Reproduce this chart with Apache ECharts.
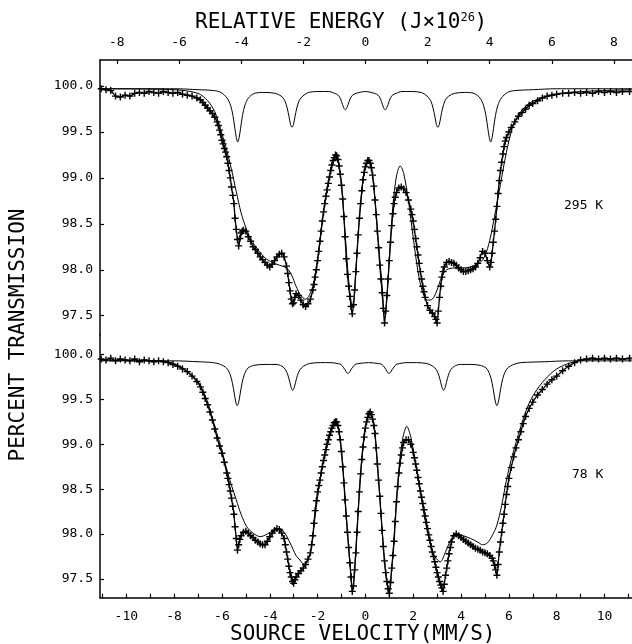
<!DOCTYPE html>
<html>
<head>
<meta charset="utf-8">
<script src="https://cdn.jsdelivr.net/npm/echarts@6.0.0/dist/echarts.min.js"></script>
<style>
  html, body { margin: 0; padding: 0; background: #fff; }
  #chart { width: 632px; height: 644px; }
</style>
</head>
<body>
<div id="chart"></div>
<script>
// axis ticks / labels
const velTicks = [-11, -10, -9, -8, -7, -6, -5, -4, -3, -2, -1, 0, 1, 2, 3, 4, 5, 6, 7, 8, 9, 10, 11];
const velLabels = [-10, -8, -6, -4, -2, 0, 2, 4, 6, 8, 10];
const energyLabels = [-8, -6, -4, -2, 0, 2, 4, 6, 8];
const transTicks = [97.5, 98.0, 98.5, 99.0, 99.5, 100.0];
const tempLabels = ['295 K', '78 K'];

// 295 K : measured points [velocity mm/s, % transmission]
const data295 = [
  [-11.05, 99.97], [-10.85, 99.96], [-10.65, 99.95], [-10.45, 99.89], [-10.25, 99.88], [-10.05, 99.90],
  [-9.85, 99.89], [-9.65, 99.92], [-9.45, 99.93], [-9.25, 99.92], [-9.05, 99.94], [-8.85, 99.93],
  [-8.65, 99.92], [-8.45, 99.94], [-8.25, 99.93], [-8.05, 99.92], [-7.85, 99.93], [-7.65, 99.91],
  [-7.45, 99.90], [-7.25, 99.89], [-7.05, 99.87], [-6.9, 99.85], [-6.8, 99.82], [-6.7, 99.79],
  [-6.6, 99.76], [-6.5, 99.73], [-6.4, 99.70], [-6.3, 99.66], [-6.2, 99.61], [-6.15, 99.57],
  [-6.1, 99.52], [-6.05, 99.47], [-6.0, 99.41], [-5.95, 99.37], [-5.9, 99.32], [-5.85, 99.28],
  [-5.8, 99.23], [-5.75, 99.16], [-5.7, 99.08], [-5.65, 99.00], [-5.6, 98.90], [-5.55, 98.81],
  [-5.5, 98.72], [-5.45, 98.56], [-5.4, 98.44], [-5.35, 98.33], [-5.3, 98.26], [-5.25, 98.34],
  [-5.2, 98.40], [-5.15, 98.42], [-5.1, 98.43], [-5.0, 98.42], [-4.9, 98.36], [-4.8, 98.31],
  [-4.7, 98.25], [-4.6, 98.22], [-4.5, 98.18], [-4.4, 98.14], [-4.3, 98.11], [-4.2, 98.08],
  [-4.1, 98.05], [-4.0, 98.03], [-3.9, 98.06], [-3.8, 98.10], [-3.7, 98.14], [-3.6, 98.17],
  [-3.5, 98.18], [-3.4, 98.14], [-3.3, 98.04], [-3.25, 97.96], [-3.2, 97.86], [-3.15, 97.77],
  [-3.1, 97.68], [-3.05, 97.63], [-3.0, 97.64], [-2.95, 97.70], [-2.9, 97.74], [-2.8, 97.72],
  [-2.7, 97.67], [-2.6, 97.62], [-2.5, 97.60], [-2.4, 97.63], [-2.3, 97.68], [-2.2, 97.78],
  [-2.15, 97.84], [-2.1, 97.92], [-2.05, 98.00], [-2.0, 98.10], [-1.95, 98.20], [-1.9, 98.31],
  [-1.85, 98.42], [-1.8, 98.53], [-1.75, 98.63], [-1.7, 98.72], [-1.65, 98.80], [-1.6, 98.87],
  [-1.55, 98.94], [-1.5, 99.01], [-1.45, 99.08], [-1.4, 99.14], [-1.35, 99.19], [-1.3, 99.22],
  [-1.25, 99.25], [-1.2, 99.24], [-1.15, 99.20], [-1.1, 99.13], [-1.05, 99.04], [-1.0, 98.92],
  [-0.95, 98.77], [-0.9, 98.58], [-0.85, 98.36], [-0.8, 98.12], [-0.75, 97.95], [-0.7, 97.82],
  [-0.65, 97.71], [-0.6, 97.60], [-0.55, 97.52], [-0.5, 97.62], [-0.45, 97.78], [-0.4, 97.98],
  [-0.35, 98.18], [-0.3, 98.38], [-0.25, 98.56], [-0.2, 98.72], [-0.15, 98.86], [-0.1, 98.98],
  [-0.05, 99.06], [0.0, 99.12], [0.05, 99.16], [0.1, 99.19], [0.15, 99.19], [0.2, 99.16],
  [0.25, 99.11], [0.3, 99.03], [0.35, 98.91], [0.4, 98.76], [0.45, 98.60], [0.5, 98.42],
  [0.55, 98.24], [0.6, 98.05], [0.65, 97.90], [0.7, 97.75], [0.75, 97.58], [0.8, 97.42],
  [0.85, 97.55], [0.9, 97.72], [0.95, 97.90], [1.0, 98.10], [1.05, 98.30], [1.1, 98.48],
  [1.15, 98.61], [1.2, 98.72], [1.25, 98.79], [1.3, 98.84], [1.4, 98.89], [1.5, 98.90],
  [1.6, 98.88], [1.7, 98.84], [1.8, 98.76], [1.9, 98.66], [1.95, 98.60], [2.0, 98.53],
  [2.05, 98.44], [2.1, 98.34], [2.15, 98.25], [2.2, 98.16], [2.25, 98.07], [2.3, 97.98],
  [2.35, 97.90], [2.4, 97.82], [2.45, 97.76], [2.5, 97.70], [2.6, 97.61], [2.7, 97.56],
  [2.8, 97.53], [2.9, 97.49], [2.95, 97.46], [3.0, 97.42], [3.05, 97.55], [3.1, 97.70],
  [3.15, 97.82], [3.2, 97.92], [3.25, 97.98], [3.3, 98.03], [3.4, 98.08], [3.5, 98.09],
  [3.6, 98.08], [3.7, 98.07], [3.8, 98.05], [3.9, 98.02], [4.0, 98.00], [4.1, 97.98],
  [4.2, 97.98], [4.3, 97.99], [4.4, 98.00], [4.5, 98.01], [4.6, 98.03], [4.7, 98.07],
  [4.8, 98.13], [4.9, 98.20], [5.0, 98.18], [5.1, 98.10], [5.2, 98.03], [5.25, 98.08],
  [5.3, 98.18], [5.35, 98.30], [5.4, 98.42], [5.45, 98.55], [5.5, 98.69], [5.55, 98.83],
  [5.6, 98.97], [5.65, 99.08], [5.7, 99.17], [5.75, 99.26], [5.8, 99.34], [5.85, 99.40],
  [5.9, 99.44], [6.0, 99.50], [6.1, 99.55], [6.25, 99.61], [6.4, 99.67], [6.55, 99.71],
  [6.7, 99.75], [6.85, 99.79], [7.0, 99.81], [7.2, 99.84], [7.4, 99.87], [7.6, 99.89],
  [7.8, 99.90], [8.0, 99.91], [8.25, 99.92], [8.5, 99.92], [8.75, 99.93], [9.0, 99.92],
  [9.25, 99.93], [9.5, 99.92], [9.75, 99.94], [10.0, 99.93], [10.25, 99.94], [10.5, 99.93],
  [10.75, 99.94], [11.05, 99.94]
];

// 295 K : second (thin) fitted curve
const fit295 = [
  [-11.1, 99.97], [-8.0, 99.96], [-7.0, 99.92], [-6.6, 99.84], [-6.3, 99.72], [-6.0, 99.48],
  [-5.8, 99.30], [-5.6, 99.09], [-5.4, 98.85], [-5.2, 98.62], [-5.0, 98.46], [-4.8, 98.34],
  [-4.5, 98.22], [-4.2, 98.13], [-3.9, 98.08], [-3.6, 98.05], [-3.3, 98.02], [-3.1, 97.95],
  [-2.9, 97.82], [-2.7, 97.72], [-2.5, 97.68], [-2.35, 97.72], [-2.2, 97.82], [-2.1, 97.95],
  [-2.0, 98.12], [-1.9, 98.33], [-1.7, 98.73], [-1.5, 99.03], [-1.35, 99.20], [-1.25, 99.26],
  [-1.15, 99.20], [-1.0, 98.93], [-0.85, 98.40], [-0.7, 97.88], [-0.6, 97.66], [-0.52, 97.60],
  [-0.45, 97.78], [-0.3, 98.40], [-0.15, 98.86], [0.0, 99.12], [0.13, 99.20], [0.25, 99.12],
  [0.4, 98.77], [0.55, 98.28], [0.7, 97.82], [0.8, 97.52], [0.88, 97.62], [1.0, 98.12],
  [1.15, 98.70], [1.3, 99.02], [1.45, 99.13], [1.6, 99.05], [1.8, 98.75], [2.0, 98.35],
  [2.2, 97.98], [2.4, 97.75], [2.6, 97.67], [2.8, 97.68], [3.0, 97.78], [3.2, 97.93],
  [3.4, 98.00], [3.7, 98.02], [4.0, 98.02], [4.4, 98.03], [4.8, 98.08], [5.0, 98.15],
  [5.2, 98.32], [5.4, 98.58], [5.6, 98.86], [5.8, 99.15], [6.0, 99.40], [6.2, 99.58],
  [6.5, 99.72], [6.9, 99.82], [7.5, 99.88], [8.5, 99.93], [11.15, 99.96]
];

// 295 K : six-line reference pattern
const sextet295 = [
  [-11.1, 99.97], [-8.0, 99.97], [-7.0, 99.96], [-6.34, 99.95], [-6.04, 99.93], [-5.79, 99.87],
  [-5.64, 99.79], [-5.54, 99.68], [-5.46, 99.54], [-5.40, 99.44], [-5.34, 99.39], [-5.28, 99.44],
  [-5.22, 99.54], [-5.14, 99.68], [-5.04, 99.79], [-4.89, 99.87], [-4.64, 99.92], [-4.2, 99.93],
  [-3.77, 99.92], [-3.52, 99.89], [-3.37, 99.84], [-3.27, 99.76], [-3.19, 99.66], [-3.13, 99.58],
  [-3.07, 99.55], [-3.01, 99.58], [-2.95, 99.66], [-2.87, 99.76], [-2.77, 99.84], [-2.62, 99.89],
  [-2.37, 99.93], [-1.95, 99.94], [-1.54, 99.94], [-1.29, 99.92], [-1.14, 99.90], [-1.04, 99.86],
  [-0.96, 99.80], [-0.90, 99.76], [-0.84, 99.74], [-0.78, 99.76], [-0.72, 99.80], [-0.64, 99.86],
  [-0.54, 99.90], [-0.39, 99.92], [0.0, 99.94], [0.38, 99.92], [0.53, 99.90], [0.63, 99.86],
  [0.71, 99.80], [0.77, 99.76], [0.83, 99.74], [0.89, 99.76], [0.95, 99.80], [1.03, 99.86],
  [1.13, 99.90], [1.28, 99.92], [1.53, 99.94], [1.93, 99.94], [2.33, 99.93], [2.58, 99.89],
  [2.73, 99.84], [2.83, 99.76], [2.91, 99.66], [2.97, 99.58], [3.03, 99.55], [3.09, 99.58],
  [3.15, 99.66], [3.23, 99.76], [3.33, 99.84], [3.48, 99.89], [3.73, 99.92], [4.14, 99.93],
  [4.54, 99.92], [4.79, 99.87], [4.94, 99.79], [5.04, 99.68], [5.12, 99.54], [5.18, 99.44],
  [5.24, 99.39], [5.30, 99.44], [5.36, 99.54], [5.44, 99.68], [5.54, 99.79], [5.69, 99.87],
  [5.94, 99.93], [6.24, 99.95], [7.0, 99.96], [8.0, 99.97], [11.15, 99.97]
];

// 78 K : measured points
const data78 = [
  [-11.05, 99.95], [-10.85, 99.94], [-10.65, 99.96], [-10.45, 99.93], [-10.25, 99.95], [-10.05, 99.94],
  [-9.85, 99.93], [-9.65, 99.95], [-9.45, 99.92], [-9.25, 99.94], [-9.05, 99.93], [-8.85, 99.92],
  [-8.65, 99.93], [-8.45, 99.92], [-8.25, 99.91], [-8.05, 99.89], [-7.85, 99.87], [-7.65, 99.84],
  [-7.45, 99.81], [-7.25, 99.76], [-7.05, 99.70], [-6.9, 99.64], [-6.8, 99.58], [-6.7, 99.51],
  [-6.6, 99.44], [-6.5, 99.36], [-6.4, 99.27], [-6.3, 99.17], [-6.2, 99.07], [-6.1, 98.98],
  [-6.0, 98.90], [-5.9, 98.80], [-5.8, 98.68], [-5.75, 98.62], [-5.7, 98.55], [-5.65, 98.48],
  [-5.6, 98.40], [-5.55, 98.31], [-5.5, 98.22], [-5.45, 98.08], [-5.4, 97.95], [-5.35, 97.82],
  [-5.3, 97.88], [-5.25, 97.94], [-5.2, 97.98], [-5.1, 98.02], [-5.0, 98.03], [-4.9, 98.01],
  [-4.8, 97.98], [-4.7, 97.96], [-4.6, 97.93], [-4.5, 97.91], [-4.4, 97.89], [-4.3, 97.88],
  [-4.2, 97.88], [-4.1, 97.92], [-4.0, 97.97], [-3.9, 98.01], [-3.8, 98.04], [-3.7, 98.06],
  [-3.6, 98.05], [-3.5, 98.01], [-3.4, 97.95], [-3.35, 97.88], [-3.3, 97.80], [-3.25, 97.72],
  [-3.2, 97.64], [-3.15, 97.57], [-3.1, 97.52], [-3.05, 97.47], [-3.0, 97.45], [-2.95, 97.49],
  [-2.9, 97.52], [-2.8, 97.56], [-2.7, 97.59], [-2.6, 97.62], [-2.5, 97.66], [-2.4, 97.72],
  [-2.3, 97.79], [-2.25, 97.88], [-2.2, 97.98], [-2.15, 98.12], [-2.1, 98.26], [-2.05, 98.37],
  [-2.0, 98.47], [-1.95, 98.54], [-1.9, 98.60], [-1.85, 98.68], [-1.8, 98.75], [-1.75, 98.82],
  [-1.7, 98.88], [-1.65, 98.94], [-1.6, 99.00], [-1.55, 99.05], [-1.5, 99.10], [-1.45, 99.14],
  [-1.4, 99.18], [-1.35, 99.21], [-1.3, 99.24], [-1.25, 99.25], [-1.2, 99.25], [-1.15, 99.21],
  [-1.1, 99.14], [-1.05, 99.05], [-1.0, 98.92], [-0.95, 98.75], [-0.9, 98.57], [-0.85, 98.38],
  [-0.8, 98.20], [-0.75, 98.02], [-0.7, 97.85], [-0.65, 97.68], [-0.6, 97.52], [-0.55, 97.36],
  [-0.5, 97.42], [-0.45, 97.60], [-0.4, 97.79], [-0.35, 98.02], [-0.3, 98.25], [-0.25, 98.47],
  [-0.2, 98.67], [-0.15, 98.83], [-0.1, 98.97], [-0.05, 99.08], [0.0, 99.18], [0.05, 99.25],
  [0.1, 99.30], [0.15, 99.34], [0.2, 99.36], [0.25, 99.33], [0.3, 99.28], [0.35, 99.21],
  [0.4, 99.12], [0.45, 98.96], [0.5, 98.78], [0.55, 98.60], [0.6, 98.42], [0.65, 98.23],
  [0.7, 98.04], [0.75, 97.86], [0.8, 97.70], [0.85, 97.57], [0.9, 97.47], [0.95, 97.39],
  [1.0, 97.34], [1.05, 97.46], [1.1, 97.62], [1.15, 97.76], [1.2, 97.92], [1.25, 98.14],
  [1.3, 98.36], [1.35, 98.53], [1.4, 98.68], [1.45, 98.79], [1.5, 98.88], [1.55, 98.96],
  [1.6, 99.02], [1.7, 99.05], [1.8, 99.05], [1.9, 99.00], [2.0, 98.91], [2.05, 98.85],
  [2.1, 98.78], [2.15, 98.71], [2.2, 98.63], [2.25, 98.56], [2.3, 98.48], [2.35, 98.41],
  [2.4, 98.34], [2.45, 98.27], [2.5, 98.20], [2.55, 98.13], [2.6, 98.06], [2.65, 97.99],
  [2.7, 97.93], [2.75, 97.86], [2.8, 97.80], [2.85, 97.75], [2.9, 97.69], [2.95, 97.63],
  [3.0, 97.57], [3.05, 97.52], [3.1, 97.47], [3.15, 97.43], [3.2, 97.40], [3.25, 97.36],
  [3.3, 97.44], [3.35, 97.54], [3.4, 97.62], [3.45, 97.70], [3.5, 97.78], [3.55, 97.85],
  [3.6, 97.91], [3.7, 97.98], [3.8, 98.00], [3.9, 97.98], [4.0, 97.96], [4.1, 97.94],
  [4.2, 97.92], [4.3, 97.90], [4.4, 97.88], [4.5, 97.86], [4.6, 97.84], [4.7, 97.83],
  [4.8, 97.82], [4.9, 97.80], [5.0, 97.79], [5.1, 97.78], [5.2, 97.76], [5.3, 97.73],
  [5.35, 97.70], [5.4, 97.65], [5.45, 97.60], [5.5, 97.54], [5.55, 97.66], [5.6, 97.80],
  [5.65, 97.91], [5.7, 98.02], [5.75, 98.12], [5.8, 98.22], [5.85, 98.33], [5.9, 98.44],
  [5.95, 98.53], [6.0, 98.62], [6.1, 98.74], [6.2, 98.86], [6.3, 98.96], [6.4, 99.05],
  [6.5, 99.14], [6.6, 99.23], [6.7, 99.31], [6.85, 99.40], [7.0, 99.47], [7.2, 99.55],
  [7.4, 99.61], [7.6, 99.67], [7.8, 99.72], [8.0, 99.76], [8.25, 99.82], [8.5, 99.87],
  [8.75, 99.91], [9.0, 99.94], [9.25, 99.95], [9.5, 99.96], [9.75, 99.95], [10.0, 99.96],
  [10.25, 99.95], [10.5, 99.96], [10.75, 99.95], [11.05, 99.96]
];

// 78 K : second (thin) fitted curve
const fit78 = [
  [-11.1, 99.94], [-8.5, 99.93], [-8.0, 99.90], [-7.5, 99.82], [-7.0, 99.70], [-6.6, 99.47],
  [-6.3, 99.20], [-6.0, 98.93], [-5.8, 98.72], [-5.6, 98.54], [-5.4, 98.38], [-5.2, 98.22],
  [-4.96, 98.08], [-4.7, 98.01], [-4.4, 97.97], [-4.1, 98.00], [-3.8, 98.05], [-3.57, 98.06],
  [-3.35, 98.00], [-3.15, 97.90], [-2.9, 97.76], [-2.74, 97.71], [-2.6, 97.67], [-2.45, 97.70],
  [-2.3, 97.78], [-2.1, 98.20], [-1.9, 98.60], [-1.7, 98.90], [-1.5, 99.12], [-1.3, 99.22],
  [-1.2, 99.23], [-1.1, 99.14], [-0.95, 98.78], [-0.8, 98.20], [-0.65, 97.68], [-0.54, 97.38],
  [-0.45, 97.62], [-0.3, 98.28], [-0.15, 98.85], [0.0, 99.20], [0.2, 99.37], [0.35, 99.22],
  [0.5, 98.80], [0.7, 98.04], [0.85, 97.55], [0.99, 97.34], [1.1, 97.60], [1.25, 98.18],
  [1.4, 98.72], [1.55, 99.05], [1.73, 99.20], [1.9, 99.08], [2.1, 98.78], [2.3, 98.46],
  [2.5, 98.15], [2.7, 97.90], [2.9, 97.75], [3.13, 97.69], [3.35, 97.80], [3.6, 97.95],
  [3.8, 98.00], [4.1, 97.98], [4.4, 97.95], [4.7, 97.91], [4.9, 97.88], [5.1, 97.90],
  [5.3, 97.98], [5.5, 98.10], [5.7, 98.32], [5.9, 98.60], [6.1, 98.83], [6.3, 99.02],
  [6.5, 99.20], [6.8, 99.43], [7.1, 99.58], [7.5, 99.72], [8.0, 99.84], [8.6, 99.91],
  [9.2, 99.94], [11.15, 99.95]
];

// 78 K : six-line reference pattern
const sextet78 = [
  [-11.1, 99.93], [-8.0, 99.93], [-7.0, 99.92], [-6.36, 99.91], [-6.06, 99.89], [-5.81, 99.85],
  [-5.66, 99.78], [-5.56, 99.68], [-5.48, 99.56], [-5.42, 99.47], [-5.36, 99.43], [-5.30, 99.47],
  [-5.24, 99.56], [-5.16, 99.68], [-5.06, 99.78], [-4.91, 99.85], [-4.66, 99.88], [-4.2, 99.89],
  [-3.74, 99.89], [-3.49, 99.87], [-3.34, 99.83], [-3.24, 99.77], [-3.16, 99.69], [-3.10, 99.63],
  [-3.04, 99.60], [-2.98, 99.63], [-2.92, 99.69], [-2.84, 99.77], [-2.74, 99.83], [-2.59, 99.87],
  [-2.34, 99.90], [-1.88, 99.91], [-1.43, 99.91], [-1.18, 99.90], [-1.03, 99.89], [-0.93, 99.86],
  [-0.85, 99.83], [-0.79, 99.80], [-0.73, 99.79], [-0.67, 99.80], [-0.61, 99.83], [-0.53, 99.86],
  [-0.43, 99.89], [-0.28, 99.90], [0.13, 99.91], [0.54, 99.90], [0.69, 99.89], [0.79, 99.86],
  [0.87, 99.83], [0.93, 99.80], [0.99, 99.79], [1.05, 99.80], [1.11, 99.83], [1.19, 99.86],
  [1.29, 99.89], [1.44, 99.90], [1.69, 99.91], [2.13, 99.91], [2.57, 99.90], [2.82, 99.87],
  [2.97, 99.83], [3.07, 99.77], [3.15, 99.69], [3.21, 99.63], [3.27, 99.60], [3.33, 99.63],
  [3.39, 99.69], [3.47, 99.77], [3.57, 99.83], [3.72, 99.87], [3.97, 99.89], [4.38, 99.89],
  [4.80, 99.88], [5.05, 99.85], [5.20, 99.78], [5.30, 99.68], [5.38, 99.56], [5.44, 99.47],
  [5.50, 99.43], [5.56, 99.47], [5.62, 99.56], [5.70, 99.68], [5.80, 99.78], [5.95, 99.85],
  [6.20, 99.89], [6.50, 99.91], [7.5, 99.92], [8.5, 99.93], [11.15, 99.93]
];

const FONT = 'DejaVu Sans Mono';
const PLUS = 'path://M4,0H6V4H10V6H6V10H4V6H0V4H4Z';
const velMin = -11.1, velMax = 11.15;
const energyPerVel = 0.7695; // 1 mm/s of 14.4 keV gamma ~ 0.77e-26 J

const black = { color: '#000', width: 1.5 };
const tickStyle = { color: '#000', width: 1.2 };
const labelFont = { color: '#000', fontFamily: FONT, fontSize: 13 };

function transAxis(grid, min, max) {
  return {
    type: 'value', gridIndex: grid, min: min, max: max, position: 'left',
    axisLine: { show: true, onZero: false, lineStyle: black },
    axisTick: { show: true, inside: true, length: 4, customValues: transTicks, lineStyle: tickStyle },
    axisLabel: Object.assign({ customValues: transTicks, margin: 7, formatter: v => v.toFixed(1) }, labelFont),
    splitLine: { show: false }
  };
}

function thin(data, idx) {
  return {
    type: 'line', data: data, xAxisIndex: idx, yAxisIndex: idx,
    showSymbol: false, smooth: 0.3, silent: true,
    lineStyle: { color: '#000', width: 1 }
  };
}

function points(data, idx) {
  return {
    type: 'line', data: data, xAxisIndex: idx, yAxisIndex: idx,
    smooth: 0.3, silent: true, showAllSymbol: true,
    symbol: PLUS, symbolSize: 7,
    itemStyle: { color: '#000' },
    lineStyle: { color: '#000', width: 1.3 }
  };
}

const chart = echarts.init(document.getElementById('chart'));
chart.setOption({
  animation: false,
  backgroundColor: '#fff',
  grid: [
    { left: 100, right: 0, top: 60, height: 275 },
    { left: 100, right: 0, top: 335, height: 262.7 }
  ],
  xAxis: [
    { type: 'value', gridIndex: 0, min: velMin, max: velMax, show: false },
    {
      type: 'value', gridIndex: 1, min: velMin, max: velMax, position: 'bottom',
      axisLine: { show: true, onZero: false, lineStyle: black },
      axisTick: { show: true, inside: true, length: 4, customValues: velTicks, lineStyle: tickStyle },
      axisLabel: Object.assign({ customValues: velLabels, margin: 12 }, labelFont),
      splitLine: { show: false }
    },
    {
      type: 'value', gridIndex: 0, position: 'top',
      min: velMin * energyPerVel, max: velMax * energyPerVel,
      axisLine: { show: true, onZero: false, lineStyle: black },
      axisTick: { show: true, inside: true, length: 4, customValues: energyLabels, lineStyle: tickStyle },
      axisLabel: Object.assign({ customValues: energyLabels, margin: 11 }, labelFont),
      splitLine: { show: false }
    }
  ],
  yAxis: [
    transAxis(0, 97.29, 100.283),
    transAxis(1, 97.29, 100.218)
  ],
  series: [
    thin(sextet295, 0),
    thin(fit295, 0),
    points(data295, 0),
    thin(sextet78, 1),
    thin(fit78, 1),
    points(data78, 1)
  ],
  graphic: [
    { type: 'text', left: 195, top: 12, style: { text: 'RELATIVE ENERGY (J×10', font: '21px "DejaVu Sans Mono"', fill: '#000' } },
    { type: 'text', left: 460.5, top: 12, style: { text: '26', font: '12px "DejaVu Sans Mono"', fill: '#000' } },
    { type: 'text', left: 474.5, top: 12, style: { text: ')', font: '21px "DejaVu Sans Mono"', fill: '#000' } },
    { type: 'text', left: 230, top: 624, style: { text: 'SOURCE VELOCITY(MM/S)', font: '21px "DejaVu Sans Mono"', fill: '#000' } },
    {
      type: 'text', x: 19, y: 335, rotation: Math.PI / 2,
      style: { text: 'PERCENT TRANSMISSION', font: '21px "DejaVu Sans Mono"', fill: '#000', align: 'center', verticalAlign: 'middle' }
    },
    { type: 'text', x: 564, y: 206, style: { text: tempLabels[0], font: '13px "DejaVu Sans Mono"', fill: '#000', verticalAlign: 'middle' } },
    { type: 'text', x: 572, y: 475, style: { text: tempLabels[1], font: '13px "DejaVu Sans Mono"', fill: '#000', verticalAlign: 'middle' } }
  ]
});
</script>
</body>
</html>
